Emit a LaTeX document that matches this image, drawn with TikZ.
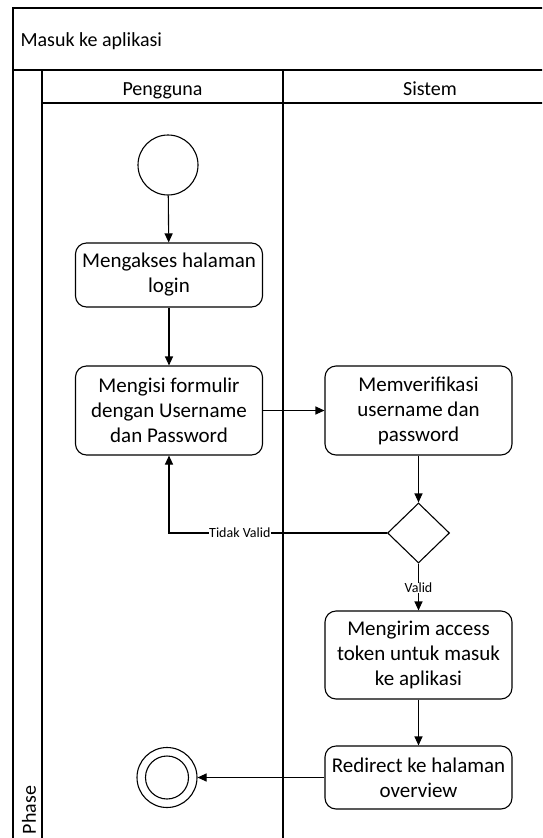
\documentclass[tikz,border=0pt]{standalone}
\usepackage{fontspec}
\setmainfont{Carlito}
\usetikzlibrary{arrows.meta,shapes.geometric}
\begin{document}
\begin{tikzpicture}[x=1pt,y=-1pt,
  frame/.style={draw,line width=1.1pt},
  act/.style={draw,line width=1.1pt,rounded corners=11pt,minimum width=187pt,
    align=center,inner sep=0pt,font=\fontsize{21}{25}\selectfont},
  flow/.style={line width=1.1pt,-{Triangle[length=9pt,width=8pt]}},
  lbl/.style={fill=white,inner sep=0.5pt,font=\fontsize{14}{16}\selectfont},
  headtxt/.style={font=\fontsize{20}{24}\selectfont},
  ring/.style={draw,circle,line width=1.1pt,inner sep=0pt},
  gate/.style={draw,diamond,line width=1.1pt,minimum width=62pt,minimum height=60pt,inner sep=0pt}
]
\useasboundingbox (0,0) rectangle (542,838);
\clip (0,0) rectangle (542,838);
\fill[white] (0,0) rectangle (542,838);

% pool frame, title band, lane header and lane separators
\draw[frame] (13,8) rectangle (580,860);
\draw[frame] (13,70) -- (580,70);
\draw[frame] (42,103) -- (580,103);
\draw[frame] (42,70) -- (42,860);
\draw[frame] (283,70) -- (283,860);

\node[headtxt,anchor=west] (title) at (17,41) {Masuk ke aplikasi};
\node[headtxt,anchor=base] (laneA) at (162.5,95) {Pengguna};
\node[headtxt,anchor=base] (laneB) at (430,95) {Sistem};
\node[headtxt,rotate=90] (phase) at (29,810) {Phase};

% activity nodes
\node[ring,minimum size=60pt] (start) at (168,165) {};
\node[act,minimum height=64pt] (access) at (169,275) {Mengakses halaman\\login};
\node[act,minimum height=89pt] (form) at (169,410.5) {Mengisi formulir\\dengan Username\\dan Password};
\node[act,minimum height=89pt] (verify) at (418.5,410.5) {Memverifikasi\\username dan\\password};
\node[gate] (check) at (418.5,533) {};
\node[act,minimum height=88pt] (token) at (418.5,655) {Mengirim access\\token untuk masuk\\ke aplikasi};
\node[act,minimum height=63pt] (redirect) at (418.5,777.5) {Redirect ke halaman\\overview};
\node[ring,minimum size=60pt] (finish) at (167,777.5) {};
\node[ring,minimum size=43pt] (finishin) at (finish.center) {};

% control flow
\draw[flow] (start) -- (access);
\draw[flow] (access) -- (form);
\draw[flow] (form) -- (verify);
\draw[flow] (verify) -- (check);
\draw[flow] (check.west) -- node[lbl,pos=0.675] {Tidak Valid} (check.west -| form.south) -- (form.south);
\draw[flow] (check.south) -- node[lbl,pos=0.52] {Valid} (token.north);
\draw[flow] (token) -- (redirect);
\draw[flow] (redirect) -- (finish);
\end{tikzpicture}
\end{document}
